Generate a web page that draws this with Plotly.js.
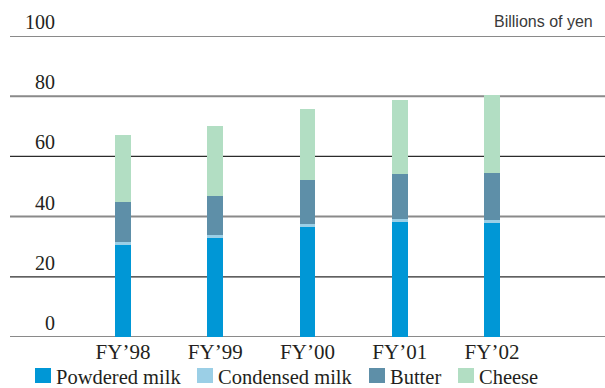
<!DOCTYPE html>
<html>
<head>
<meta charset="utf-8">
<script src="https://cdn.plot.ly/plotly-3.0.1.min.js"></script>
<style>
  html, body { margin: 0; padding: 0; background: #ffffff; }
  #chart { width: 605px; height: 388px; }
</style>
</head>
<body>
<div id="chart"></div>
<script>
// Dairy product sales by fiscal year, billions of yen
const categories = ['FY\u201998', 'FY\u201999', 'FY\u201900', 'FY\u201901', 'FY\u201902'];
const powderedMilk = [30.6, 32.9, 36.6, 38.2, 37.9];
const condensedMilk = [1.0, 1.0, 1.0, 1.0, 1.0];
const butter = [13.3, 13.0, 14.7, 15.0, 15.7];
const cheese = [22.1, 23.1, 23.6, 24.4, 25.7];
const seriesNames = ['Powdered milk', 'Condensed milk', 'Butter', 'Cheese'];
const yTicks = [0, 20, 40, 60, 80, 100];
const unitLabel = 'Billions of yen';

const colors = ['#0097d6', '#9bcfe6', '#5e8fa8', '#b2dec3'];
const seriesValues = [powderedMilk, condensedMilk, butter, cheese];

const W = 605, H = 388;
const M = { l: 10, r: 0, t: 36, b: 51 };
const plotW = W - M.l - M.r, plotH = H - M.t - M.b;
const px2x = px => (px - M.l) / plotW;
const px2y = py => (H - M.b - py) / plotH;

const serif = 'Liberation Serif';
const textColor = '#231f20';

const traces = seriesValues.map((vals, i) => ({
  type: 'bar',
  name: seriesNames[i],
  x: categories,
  y: vals,
  width: 0.173,
  marker: { color: colors[i], line: { width: 0 } },
  showlegend: false,
  hoverinfo: 'skip'
}));

// horizontal rules: heavy grey lines with thin dark ones at 20 and 60
const shapes = yTicks.map(v => {
  const dark = (v === 20 || v === 60);
  return {
    type: 'line', xref: 'paper', yref: 'y', layer: 'between',
    x0: 0, x1: 1, y0: v, y1: v,
    line: { color: dark ? '#2b2b2b' : '#8a8a8a', width: dark ? 1.3 : 2 }
  };
});

// key: coloured squares with labels along the bottom
const keyX = [35, 197, 369, 458];
const annotations = [];
seriesNames.forEach((name, i) => {
  shapes.push({
    type: 'rect', xref: 'paper', yref: 'paper', layer: 'above',
    x0: px2x(keyX[i]), x1: px2x(keyX[i] + 16),
    y0: px2y(383), y1: px2y(368),
    fillcolor: colors[i], line: { width: 0 }
  });
  annotations.push({
    xref: 'paper', yref: 'paper', showarrow: false,
    x: px2x(keyX[i] + 19), y: px2y(376.5), xanchor: 'left', yanchor: 'middle',
    text: name, font: { family: serif, size: 20.5, color: textColor }
  });
});

annotations.push({
  xref: 'paper', yref: 'paper', showarrow: false,
  x: px2x(492), y: px2y(21), xanchor: 'left', yanchor: 'middle',
  text: unitLabel, font: { family: 'Liberation Sans', size: 16, color: '#3a3a3a' }
});

const layout = {
  width: W, height: H,
  margin: M,
  font: { family: serif, size: 20, color: textColor },
  paper_bgcolor: '#ffffff', plot_bgcolor: '#ffffff',
  barmode: 'stack',
  showlegend: false,
  xaxis: {
    type: 'category',
    range: [-1.225, 5.225],
    showgrid: false, zeroline: false, showline: false,
    ticks: '',
    tickfont: { family: serif, size: 21, color: textColor },
    fixedrange: true
  },
  yaxis: {
    range: [0, 100],
    tickvals: yTicks,
    showgrid: false, zeroline: false, showline: false,
    ticks: '',
    anchor: 'free', position: px2x(55),
    ticklabelshift: -14,
    tickfont: { family: serif, size: 20, color: textColor },
    fixedrange: true
  },
  shapes: shapes,
  annotations: annotations
};

Plotly.newPlot('chart', traces, layout, { staticPlot: true, displayModeBar: false });
</script>
</body>
</html>
